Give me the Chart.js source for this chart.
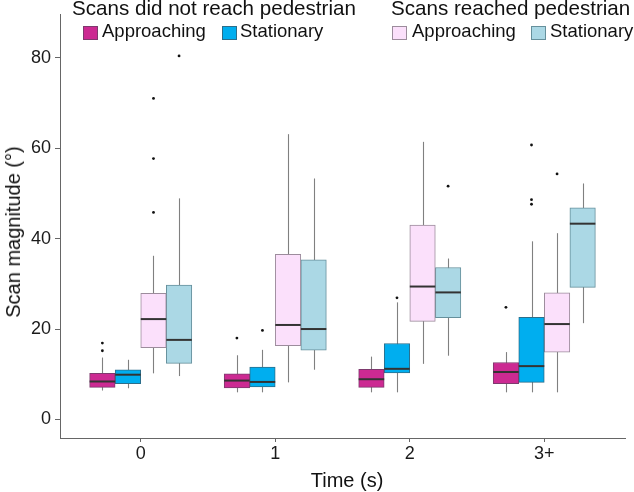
<!DOCTYPE html>
<html>
<head>
<meta charset="utf-8">
<script src="https://cdn.jsdelivr.net/npm/chart.js@4"></script>
<style>
  body { margin: 0; background: #fff; }
  #wrap { position: relative; width: 634px; height: 492px; font-family: "Liberation Sans", Arial, sans-serif; color: #111; }
  #wrap canvas { position: absolute; left: 0; top: 0; }
  .txt { position: absolute; white-space: nowrap; line-height: 1; }
  .key { position: absolute; width: 13px; height: 12px; border: 1px solid; }
</style>
</head>
<body>
<div id="wrap">
  <canvas id="chart" width="634" height="492"></canvas>
  <div class="txt" style="left:72px; top:-2px; font-size:20.6px;">Scans did not reach pedestrian</div>
  <div class="key" style="left:83px; top:26px; background:#CC2A92; border-color:#7E3A6E;"></div>
  <div class="txt" style="left:102px; top:22px; font-size:18.5px;">Approaching</div>
  <div class="key" style="left:222px; top:26px; background:#00AEEF; border-color:#2C6E8A;"></div>
  <div class="txt" style="left:240px; top:22px; font-size:18.5px;">Stationary</div>

  <div class="txt" style="left:391px; top:-2px; font-size:20.6px;">Scans reached pedestrian</div>
  <div class="key" style="left:392px; top:26px; background:#FBE0FB; border-color:#9C8C9C;"></div>
  <div class="txt" style="left:412px; top:22px; font-size:18.5px;">Approaching</div>
  <div class="key" style="left:531px; top:26px; background:#ABD8E5; border-color:#66909C;"></div>
  <div class="txt" style="left:550px; top:22px; font-size:18.5px;">Stationary</div>

  <div class="txt" style="left:347px; top:470px; font-size:20px; transform:translateX(-50%);">Time (s)</div>
  <div class="txt" style="left:13px; top:232px; font-size:20px; transform:translate(-50%,-50%) rotate(-90deg);">Scan magnitude (°)</div>
</div>
<script>
// ---- data ----
const categories = ["0", "1", "2", "3+"];
const yTicks = [0, 20, 40, 60, 80];

// each entry: [lower whisker, Q1, median, Q3, upper whisker]
const notReachedApproaching = [[6.4, 7.1, 8.4, 10.2, 13.7], [6.0, 7.0, 8.6, 10.1, 14.2], [6.0, 7.1, 8.9, 11.1, 13.9], [6.0, 7.9, 10.5, 12.6, 14.9]];
const notReachedStationary  = [[6.9, 7.9, 9.9, 11.0, 13.2], [6.0, 7.2, 8.3, 11.6, 15.4], [6.0, 10.3, 11.2, 16.8, 25.9], [6.0, 8.2, 11.8, 22.6, 39.4]];
const reachedApproaching    = [[10.2, 15.9, 22.2, 27.9, 36.2], [8.2, 16.3, 20.9, 36.5, 63.1], [12.3, 21.7, 29.4, 43.0, 61.4], [6.0, 14.9, 21.1, 28.0, 41.2]];
const reachedStationary     = [[9.6, 12.4, 17.6, 29.7, 48.9], [11.0, 15.3, 20.0, 35.3, 53.3], [14.1, 22.5, 28.1, 33.6, 35.6], [21.3, 29.2, 43.3, 46.8, 52.2]];

// outliers per category
const notReachedApproachingOut = [[16.9, 15.2], [18.0], [], [24.8]];
const notReachedStationaryOut  = [[], [19.7], [26.9], [60.7, 48.6, 47.6]];
const reachedApproachingOut    = [[71.0, 57.7, 45.8], [], [], [54.3]];
const reachedStationaryOut     = [[80.4], [], [51.6], []];

// ---- styling ----
const BOX_W = 25.5;
const series = [
  { stats: notReachedApproaching, out: notReachedApproachingOut, fill: "#CC2A92", line: "#7E3A6E", off: -0.285 },
  { stats: notReachedStationary,  out: notReachedStationaryOut,  fill: "#00AEEF", line: "#2C6E8A", off: -0.095 },
  { stats: reachedApproaching,    out: reachedApproachingOut,    fill: "#FBE0FB", line: "#9C8C9C", off: 0.095 },
  { stats: reachedStationary,     out: reachedStationaryOut,     fill: "#ABD8E5", line: "#66909C", off: 0.285 }
];

const boxDatasets = series.map(s => ({
  type: "bar",
  data: s.stats.map((v, i) => ({ x: i + 1 + s.off, y: [v[1], v[3]] })),
  backgroundColor: s.fill,
  borderColor: s.line,
  borderWidth: 1,
  borderSkipped: false,
  barThickness: BOX_W,
  grouped: false
}));

const outlierDatasets = series.map(s => ({
  type: "scatter",
  data: s.out.flatMap((vals, i) => vals.map(v => ({ x: i + 1 + s.off, y: v }))),
  backgroundColor: "#111",
  borderWidth: 0,
  pointRadius: 1.4
}));

// whiskers behind boxes, medians on top
const boxplot = {
  id: "boxplot",
  beforeDatasetsDraw(chart) {
    const { ctx, scales: { x, y } } = chart;
    ctx.save();
    ctx.strokeStyle = "#808080";
    ctx.lineWidth = 1.1;
    series.forEach(s => s.stats.forEach((v, i) => {
      const px = Math.round(x.getPixelForValue(i + 1 + s.off)) + 0.5;
      ctx.beginPath();
      ctx.moveTo(px, y.getPixelForValue(v[0]));
      ctx.lineTo(px, y.getPixelForValue(v[4]));
      ctx.stroke();
    }));
    ctx.restore();
  },
  afterDatasetsDraw(chart) {
    const { ctx, scales: { x, y } } = chart;
    ctx.save();
    ctx.strokeStyle = "#333";
    ctx.lineWidth = 2;
    series.forEach(s => s.stats.forEach((v, i) => {
      const px = x.getPixelForValue(i + 1 + s.off);
      const py = y.getPixelForValue(v[2]);
      ctx.beginPath();
      ctx.moveTo(px - BOX_W / 2, py);
      ctx.lineTo(px + BOX_W / 2, py);
      ctx.stroke();
    }));
    ctx.restore();
  }
};

Chart.defaults.font.family = '"Liberation Sans", Arial, sans-serif';

new Chart(document.getElementById("chart"), {
  type: "bar",
  data: { datasets: [...boxDatasets, ...outlierDatasets] },
  options: {
    responsive: false,
    animation: false,
    devicePixelRatio: 1,
    layout: { padding: { left: 0, right: 9, top: 5, bottom: 0 } },
    plugins: { legend: { display: false }, tooltip: { enabled: false } },
    scales: {
      x: {
        type: "linear",
        min: 0.4,
        max: 4.6,
        offset: false,
        afterBuildTicks: s => { s.ticks = categories.map((c, i) => ({ value: i + 1 })); },
        afterFit: s => { s.height = 54; },
        ticks: {
          callback: v => categories[Math.round(v) - 1],
          autoSkip: false,
          maxRotation: 0,
          padding: 1,
          color: "#1a1a1a",
          font: { size: 18 }
        },
        grid: { offset: false, drawOnChartArea: false, drawTicks: true, tickLength: 4, color: "#666" },
        border: { display: true, color: "#666", width: 1 }
      },
      y: {
        type: "linear",
        min: -4.1,
        max: 89.5,
        afterBuildTicks: s => { s.ticks = yTicks.map(v => ({ value: v })); },
        afterFit: s => { s.width = 60; },
        ticks: { padding: 4, color: "#1a1a1a", font: { size: 18 } },
        grid: { drawOnChartArea: false, drawTicks: true, tickLength: 5, color: "#666" },
        border: { display: true, color: "#666", width: 1 }
      }
    }
  },
  plugins: [boxplot]
});
</script>
</body>
</html>
